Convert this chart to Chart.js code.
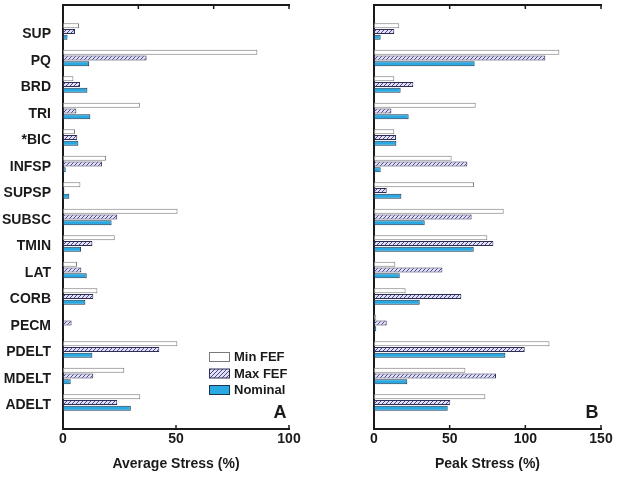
<!DOCTYPE html>
<html>
<head>
<meta charset="utf-8">
<script src="https://cdn.jsdelivr.net/npm/chart.js@4.4.1/dist/chart.umd.min.js"></script>
<style>
  body { margin: 0; background: #fff; }
  #left, #right { position: absolute; top: 0; }
  #left { left: 0; }
  #right { left: 310px; }
</style>
</head>
<body>
<canvas id="left" width="310" height="477"></canvas>
<canvas id="right" width="307" height="477"></canvas>
<script>
const muscles = ['SUP', 'PQ', 'BRD', 'TRI', '*BIC', 'INFSP', 'SUPSP', 'SUBSC', 'TMIN', 'LAT', 'CORB', 'PECM', 'PDELT', 'MDELT', 'ADELT'];
const seriesNames = ['Min FEF', 'Max FEF', 'Nominal'];

// average stress (%)
const avgMin = [7.1, 86, 4.6, 34, 5.3, 19, 7.7, 50.7, 22.9, 6.2, 15.2, 0, 50.6, 27.1, 34.2];
const avgMax = [5.3, 37, 7.5, 5.9, 6.3, 17.3, 0.6, 24, 13, 8.1, 13.4, 3.8, 42.6, 13.4, 24];
const avgNom = [2, 11.6, 10.8, 12.1, 6.8, 1.2, 2.8, 21.5, 8, 10.5, 9.9, 0, 13, 3.4, 30];

// peak stress (%)
const peakMin = [16.7, 122.5, 13.4, 67.2, 13.4, 51.3, 66.1, 85.7, 74.9, 14.1, 20.9, 1.5, 116, 60.4, 73.6];
const peakMax = [13.4, 113.2, 26, 11.5, 14.5, 61.7, 8.4, 64.5, 78.9, 45.2, 57.7, 8.4, 99.6, 80.6, 50.4];
const peakNom = [4.4, 66.5, 17.6, 22.9, 14.8, 4.4, 18.1, 33.5, 65.9, 17, 30.2, 1.5, 86.8, 22, 48.7];

const avgTicks = [0, 50, 100];
const peakTicks = [0, 50, 100, 150];

const FONT = '"Liberation Sans", Arial, sans-serif';
const INK = '#1a1a1a';

function hatch() {
    const c = document.createElement('canvas');
    c.width = 4; c.height = 4;
    const g = c.getContext('2d');
    g.fillStyle = '#e2e0f6';
    g.fillRect(0, 0, 4, 4);
    g.strokeStyle = '#4a4888';
    g.lineWidth = 1;
    g.beginPath();
    g.moveTo(-1, 5); g.lineTo(5, -1);
    g.moveTo(-1, 1); g.lineTo(1, -1);
    g.moveTo(3, 5); g.lineTo(5, 3);
    g.stroke();
    return g.createPattern(c, 'repeat');
}
const hatchFill = hatch();

const styles = [
    { backgroundColor: '#ffffff', borderColor: '#7a7a7a' },
    { backgroundColor: hatchFill, borderColor: '#2e2e55' },
    { backgroundColor: '#29a9e1', borderColor: '#1c3550' }
];

// small inward tick marks on top and bottom axes
const inwardTicks = {
    id: 'inwardTicks',
    afterDraw(chart) {
        const { ctx, chartArea } = chart;
        ctx.save();
        ctx.strokeStyle = INK;
        ctx.lineWidth = 1.5;
        chart.scales.x.ticks.forEach(t => {
            if (t.value === 0) return;
            const px = chart.scales.x.getPixelForValue(t.value);
            ctx.beginPath();
            ctx.moveTo(px, chartArea.bottom);
            ctx.lineTo(px, chartArea.bottom - 4);
            ctx.stroke();
        });
        chart.scales.x2.ticks.forEach(t => {
            if (t.value === 0) return;
            const px = chart.scales.x2.getPixelForValue(t.value);
            ctx.beginPath();
            ctx.moveTo(px, chartArea.top);
            ctx.lineTo(px, chartArea.top + 4);
            ctx.stroke();
        });
        ctx.restore();
    }
};

const panelLetter = {
    id: 'panelLetter',
    afterDraw(chart, args, opts) {
        const { ctx, chartArea } = chart;
        ctx.save();
        ctx.fillStyle = INK;
        ctx.font = 'bold 18px ' + FONT;
        ctx.textAlign = 'center';
        ctx.textBaseline = 'middle';
        ctx.fillText(opts.text, chartArea.right - 9, chartArea.bottom - 16);
        ctx.restore();
    }
};

const boxLegend = {
    id: 'boxLegend',
    afterDraw(chart) {
        const { ctx, chartArea } = chart;
        ctx.save();
        ctx.font = 'bold 13px ' + FONT;
        ctx.textBaseline = 'middle';
        chart.data.datasets.forEach((ds, i) => {
            const x = chartArea.left + 146;
            const y = chartArea.bottom - 72 + i * 16.5;
            ctx.fillStyle = ds.backgroundColor;
            ctx.fillRect(x, y - 4.5, 20, 9);
            ctx.strokeStyle = ds.borderColor;
            ctx.lineWidth = 1;
            ctx.strokeRect(x + 0.5, y - 4.5, 20, 9);
            ctx.fillStyle = INK;
            ctx.fillText(ds.label, x + 25, y + 0.5);
        });
        ctx.restore();
    }
};

function makeChart(id, series, max, tickVals, title, letter, showNames, extra) {
    return new Chart(document.getElementById(id), {
        type: 'bar',
        data: {
            labels: muscles.map((m, i) => i),
            datasets: series.map((vals, i) => ({
                label: seriesNames[i],
                data: vals,
                backgroundColor: styles[i].backgroundColor,
                borderColor: styles[i].borderColor,
                borderWidth: 1,
                borderSkipped: false,
                categoryPercentage: 0.66,
                barPercentage: 0.85
            }))
        },
        options: {
            indexAxis: 'y',
            responsive: false,
            animation: false,
            layout: { padding: { top: 0, bottom: 0, left: 0, right: id === 'left' ? 21 : 16 } },
            plugins: {
                legend: { display: false },
                tooltip: { enabled: false },
                panelLetter: { text: letter }
            },
            scales: {
                y: {
                    type: 'linear',
                    reverse: true,
                    offset: false,
                    min: -1,
                    max: 15,
                    afterBuildTicks: s => { s.ticks = muscles.map((m, i) => ({ value: i + 0.1 })); },
                    afterFit: s => {
                        s.width = id === 'left' ? 63 : 64;
                        s.paddingTop = 0;
                        s.paddingBottom = 0;
                    },
                    grid: { display: false, drawTicks: false, offset: false },
                    border: { display: true, color: INK, width: 2 },
                    ticks: {
                        display: showNames,
                        autoSkip: false,
                        padding: 12,
                        color: INK,
                        font: { family: FONT, size: 14, weight: 'bold' },
                        callback: (v, i) => muscles[i]
                    }
                },
                x: {
                    position: 'bottom',
                    min: 0,
                    max: max,
                    afterBuildTicks: s => { s.ticks = tickVals.map(v => ({ value: v })); },
                    afterFit: s => { s.height = 48; },
                    grid: { display: false, drawTicks: false },
                    border: { display: true, color: INK, width: 2 },
                    ticks: {
                        padding: 2,
                        color: INK,
                        maxRotation: 0,
                        font: { family: FONT, size: 14, weight: 'bold' }
                    },
                    title: {
                        display: true,
                        text: title,
                        color: INK,
                        padding: { top: 0, bottom: 4 },
                        font: { family: FONT, size: 14, weight: 'bold' }
                    }
                },
                x2: {
                    position: 'top',
                    min: 0,
                    max: 150,
                    afterBuildTicks: s => { s.ticks = peakTicks.map(v => ({ value: v })); },
                    afterFit: s => { s.height = 5; },
                    grid: { display: false, drawTicks: false },
                    border: { display: true, color: INK, width: 2 },
                    ticks: { display: false }
                }
            }
        },
        plugins: [inwardTicks, panelLetter].concat(extra)
    });
}

makeChart('left', [avgMin, avgMax, avgNom], 100, avgTicks, 'Average Stress (%)', 'A', true, [boxLegend]);
makeChart('right', [peakMin, peakMax, peakNom], 150, peakTicks, 'Peak Stress (%)', 'B', false, []);
</script>
</body>
</html>
